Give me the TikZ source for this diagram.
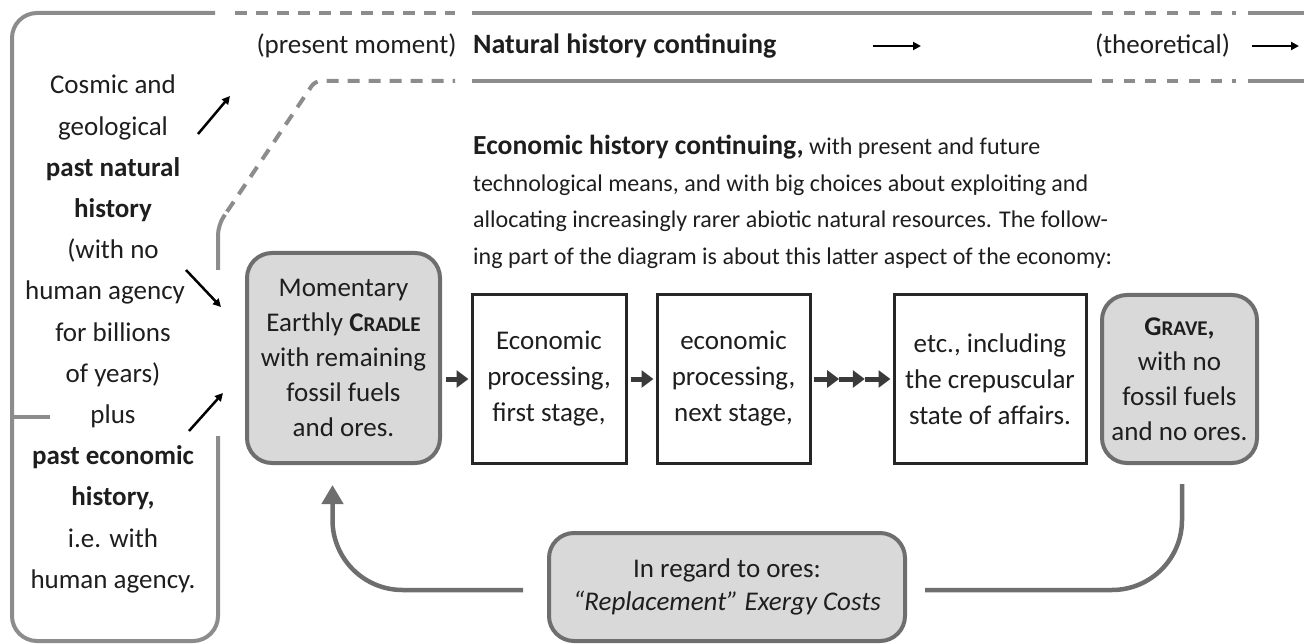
\documentclass[tikz,border=0pt]{standalone}
\usepackage{fontspec}
\setmainfont{Carlito}
\usetikzlibrary{arrows.meta,calc}
\definecolor{framegray}{HTML}{8C8C8C}
\definecolor{boxgray}{HTML}{6E6E6E}
\definecolor{boxfill}{HTML}{D9D9D9}
\definecolor{txt}{HTML}{1E1E1E}
\definecolor{arrgray}{HTML}{3A3A3A}
\newcommand{\fs}[2]{\fontsize{#1}{#2}\selectfont}
\newcommand{\smc}[1]{{\fontsize{21}{21}\selectfont #1}}
\begin{document}
\begin{tikzpicture}[x=1pt,y=-1pt,
  frame/.style={draw=framegray, line width=4pt},
  framedash/.style={frame, dash pattern=on 12pt off 9pt},
  framedashb/.style={frame, dash pattern=on 11pt off 10.7pt},
  rbox/.style={draw=boxgray, fill=boxfill, line width=4pt, rounded corners=25pt,
    align=center, inner sep=0pt, font=\fs{27}{35}, text=txt},
  sbox/.style={draw=black!85, line width=3pt, fill=white, align=center, inner sep=0pt,
    minimum height=168pt, font=\fs{27}{36}, text=txt},
  flow/.style={draw=arrgray, line width=5pt, -{Triangle[length=12pt,width=17pt]}},
  thinarrow/.style={draw=black, line width=2.5pt, -{Triangle[length=8pt,width=8pt]}},
  loopline/.style={draw=boxgray, line width=4.5pt, rounded corners=70pt},
  plain/.style={inner sep=0pt, text=txt, font=\fs{27}{35}}
]
\useasboundingbox (0,0) rectangle (1304,644);

% ---- frame lines ----
\draw[frame, rounded corners=25pt] (215,13) -- (12,13) -- (12,641) -- (218,641) -- (218,436);
\draw[frame] (12,417) -- (50,417);
\draw[frame, rounded corners=10pt] (218,270) -- (218,225) -- (225,214.7);
\draw[framedash, rounded corners=6pt] (227,211.7) -- (315,81) -- (455,81);
\draw[framedash] (235,13) -- (455,13);
\draw[frame] (472,13) -- (1092,13);
\draw[frame] (472,81) -- (1092,81);
\draw[framedashb] (1102,13) -- (1236,13);
\draw[framedashb] (1102,81) -- (1236,81);
\draw[frame] (1248,13) -- (1304,13);
\draw[frame] (1248,81) -- (1304,81);

% ---- top texts ----
\node[plain] (present) at (356.5,46) {(present moment)};
\node[plain, anchor=west, font=\fs{28}{35}\bfseries] (natural) at (473,46) {Natural history continuing};
\node[plain] (theo) at (1162.5,46) {(theoretical)};
\coordinate (na1) at (873,46);
\coordinate (na2) at (921,46);
\coordinate (nb1) at (1252,46);
\coordinate (nb2) at (1299,46);
\draw[thinarrow] (na1) -- (na2);
\draw[thinarrow] (nb1) -- (nb2);

% ---- paragraph ----
\node[plain, anchor=north west, align=left, font=\fs{24}{36.5}] (econ) at (473,135)
 {{\fontsize{27.6}{36.5}\selectfont\bfseries Economic history continuing,} with present and future\\
  technological means, and with big choices about exploiting and\\
  allocating increasingly rarer abiotic natural resources. The follow-\\
  ing part of the diagram is about this latter aspect of the economy:};

% ---- left text ----
\node[plain, align=center, font=\fs{27}{41.2}] (left) at (113,334)
 {Cosmic and\\geological\\\textbf{past natural}\\\textbf{history}\\(with no\\human agency\rule{16pt}{0pt}\\for billions\\of years)\\plus\\\textbf{past economic}\\\textbf{history,}\\i.e. with\\human agency.};

% ---- boxes ----
\node[rbox, minimum width=193pt, minimum height=210pt] (cradle) at (343.5,358)
 {Momentary\\Earthly \textbf{C\smc{RADLE}}\\with remaining\\fossil fuels\\and ores.};
\node[sbox, minimum width=154pt] (box1) at (549,379) {Economic\\processing,\\first stage,};
\node[sbox, minimum width=153pt] (box2) at (733.5,379) {economic\\processing,\\next stage,};
\node[sbox, minimum width=192pt] (box3) at (990,379) {etc., including\\the crepuscular\\state of affairs.};
\node[rbox, minimum width=155pt, minimum height=168pt] (grave) at (1179.5,379)
 {\textbf{G\smc{RAVE},}\\with no\\fossil fuels\\and no ores.};
\node[rbox, minimum width=356pt, minimum height=108pt, font=\fs{27}{33}] (repl) at (727,587)
 {In regard to ores:\\\textit{“Replacement” Exergy Costs}};

% ---- small black arrows on the left ----
\coordinate (l1a) at (198,134); \coordinate (l1b) at (230,96);
\coordinate (l2a) at (186,270); \coordinate (l2b) at (221,307);
\coordinate (l3a) at (189,431); \coordinate (l3b) at (223,393);
\draw[thinarrow] (l1a) -- (l1b);
\draw[thinarrow] (l2a) -- (l2b);
\draw[thinarrow] (l3a) -- (l3b);

% ---- flow arrows ----
\draw[flow] ($(cradle.east |- box1.west)+(4,0)$) -- ($(box1.west)+(-2,0)$);
\draw[flow] ($(box1.east)+(3,0)$) -- ($(box2.west)+(-2,0)$);
\coordinate (m0) at ($(box2.east)+(2,0)$);
\coordinate (m3) at ($(box3.west)+(-2,0)$);
\coordinate (m1) at ($(m0)!1/3!(m3)$);
\coordinate (m2) at ($(m0)!2/3!(m3)$);
\draw[flow] (m0) -- (m1);
\draw[flow] (m1) -- (m2);
\draw[flow] (m2) -- (m3);

% ---- loop ----
\coordinate (g1) at ($(grave.south)+(2.5,19)$);
\coordinate (r1) at ($(repl.east)+(18,3)$);
\coordinate (r2) at ($(repl.west)+(-24,3)$);
\coordinate (c1) at ($(cradle.south)+(-11,20)$);
\draw[loopline] (g1) |- (r1);
\draw[loopline, -{Triangle[length=19pt,width=21pt]}] (r2) -| (c1);
\end{tikzpicture}
\end{document}
